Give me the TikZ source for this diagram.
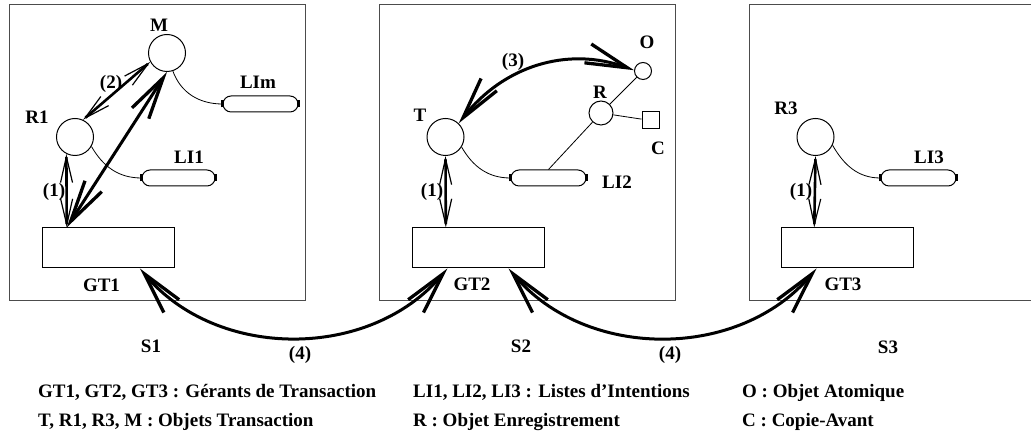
\documentclass[tikz,border=0pt]{standalone}
\usepackage{fontspec}
\setmainfont{Liberation Serif}
\usetikzlibrary{arrows.meta,shapes.misc,calc}
\begin{document}
\begin{tikzpicture}[x=1pt,y=1pt,
  every node/.style={font=\bfseries\fontsize{19}{22}\selectfont},
  lbl/.style={inner sep=0pt, text height=13pt, text depth=0pt},
  leg/.style={inner sep=0pt, anchor=base west},
  panel/.style={draw=black!70, line width=1pt, rectangle, minimum width=296pt, minimum height=296pt, inner sep=0pt},
  gt/.style={draw, line width=1pt, rectangle, minimum width=132pt, minimum height=40pt, inner sep=0pt},
  obj/.style={draw, line width=1pt, circle, minimum size=37pt, inner sep=0pt},
  capsule/.style={draw, line width=1pt, rounded rectangle, minimum width=75pt, minimum height=16pt, inner sep=0pt},
  capend/.style={line width=2.5pt},
  thinline/.style={line width=0.8pt},
  bigtip/.style={},
  bigarr/.style={line width=3pt, {Straight Barb[length=42pt 0,width=20pt 0,line width=3.3pt 0]}-{Straight Barb[length=42pt 0,width=20pt 0,line width=3.3pt 0]}},
  smallarr/.style={line width=2.6pt, {Straight Barb[length=26pt 0,width=12pt 0,line width=1.2pt 0]}-{Straight Barb[length=26pt 0,width=12pt 0,line width=1.2pt 0]}}
]
\clip (0,0) rectangle (1031,438);
\fill[white] (0,0) rectangle (1031,438);

% panels
\node[panel] (S1box) at (157.5,285) {};
\node[panel] (S2box) at (527,285) {};
\node[panel, minimum width=300pt] (S3box) at (899,285) {};

% transaction managers
\node[gt] (GT1) at (108,190) {};
\node[gt] (GT2) at (478,190) {};
\node[gt] (GT3) at (847.5,190) {};

% objects
\node[obj] (M) at (167,385) {};
\node[obj] (R1) at (75,301) {};
\node[obj] (T) at (445.5,301) {};
\node[obj] (R3) at (815.5,301) {};
\node[obj, minimum size=24pt] (R) at (601,325) {};
\node[obj, minimum size=17pt] (O) at (643,367) {};
\node[draw, line width=1pt, rectangle, minimum size=17pt, inner sep=0pt] (C) at (650.5,317.5) {};

% intention lists
\node[capsule] (LIm) at (260.5,334) {};
\node[capsule, minimum width=73pt] (LI1) at (178.5,260) {};
\node[capsule] (LI2) at (548.5,260) {};
\node[capsule] (LI3) at (918.5,260) {};
\foreach \n in {LIm,LI1,LI2,LI3}{
  \draw[capend] ([yshift=-3.5pt]\n.west) -- ([yshift=3.5pt]\n.west);
  \draw[capend] ([yshift=-3.5pt]\n.east) -- ([yshift=3.5pt]\n.east);
}

% labels
\node[lbl] (lM) at (159,413) {M};
\node[lbl] (lR1) at (37,321) {R1};
\node[lbl] (lLIm) at (258,356) {LIm};
\node[lbl] (lLI1) at (189,281) {LI1};
\node[lbl] (l2) at (111,356) {(2)};
\node[lbl] (l1a) at (54,248) {(1)};
\node[lbl] (lGT1) at (101.5,153) {GT1};
\node[lbl] (lT) at (420,323) {T};
\node[lbl] (lO) at (647,396) {O};
\node[lbl] (lR) at (600,346) {R};
\node[lbl] (lC) at (658,290) {C};
\node[lbl] (lLI2) at (617,256) {LI2};
\node[lbl] (l3) at (513,378) {(3)};
\node[lbl] (l1b) at (432,248) {(1)};
\node[lbl] (lGT2) at (472,154) {GT2};
\node[lbl] (lR3) at (786,330) {R3};
\node[lbl] (lLI3) at (929,281) {LI3};
\node[lbl] (l1c) at (801,248) {(1)};
\node[lbl] (lGT3) at (843,154) {GT3};
\node[lbl] (lS1) at (151,92) {S1};
\node[lbl] (lS2) at (521,92) {S2};
\node[lbl] (lS3) at (888,91) {S3};
\node[lbl] (l4a) at (300,85) {(4)};
\node[lbl] (l4b) at (670,85) {(4)};

% thin connectors
\draw[thinline] (M.-72) to[out=-70,in=180] (LIm.west);
\draw[thinline] (R1.-30) to[out=-60,in=180] (LI1.west);
\draw[thinline] (T.-32) to[out=-60,in=180] (LI2.west);
\draw[thinline] (R3.-26) to[out=-60,in=180] (LI3.west);
\draw[thinline] (O) -- (R);
\draw[thinline] (R) -- (LI2.north);
\draw[thinline] (R) -- (C);

% anchor points on the managers
\coordinate (g1t) at ($(GT1.north west)!0.19!(GT1.north east)$);
\coordinate (g2t) at ($(GT2.north west)!0.258!(GT2.north east)$);
\coordinate (g3t) at ($(GT3.north west)!0.25!(GT3.north east)$);
\coordinate (g1b) at ($(GT1.south west)!0.74!(GT1.south east)$);
\coordinate (g2b1) at ($(GT2.south west)!0.27!(GT2.south east)$);
\coordinate (g2b2) at ($(GT2.south west)!0.73!(GT2.south east)$);
\coordinate (g3b) at ($(GT3.south west)!0.267!(GT3.south east)$);

% arrows
\draw[smallarr] (R1.243) -- (g1t);
\draw[smallarr] (R1.65) -- (M.208);
\draw[bigarr] (M.south) -- (g1t);
\draw[smallarr] (T.south) -- (g2t);
\draw[smallarr] (R3.south) -- (g3t);
\draw[bigarr] (T.46) to[out=52,in=160] (O.175);
\draw[bigarr] (g1b) to[out=-50,in=-130] (g2b1);
\draw[bigarr] (g2b2) to[out=-50,in=-130] (g3b);

% legend
\node[leg] (L1) at (38,40) {GT1, GT2, GT3 : Gérants de Transaction};
\node[leg] (L2) at (413,40) {LI1, LI2, LI3 : Listes d’Intentions};
\node[leg] (L3) at (742,40) {O : Objet Atomique};
\node[leg] (L4) at (38,11) {T, R1, R3, M : Objets Transaction};
\node[leg] (L5) at (413,11) {R : Objet Enregistrement};
\node[leg] (L6) at (742,11) {C : Copie-Avant};
\end{tikzpicture}
\end{document}
